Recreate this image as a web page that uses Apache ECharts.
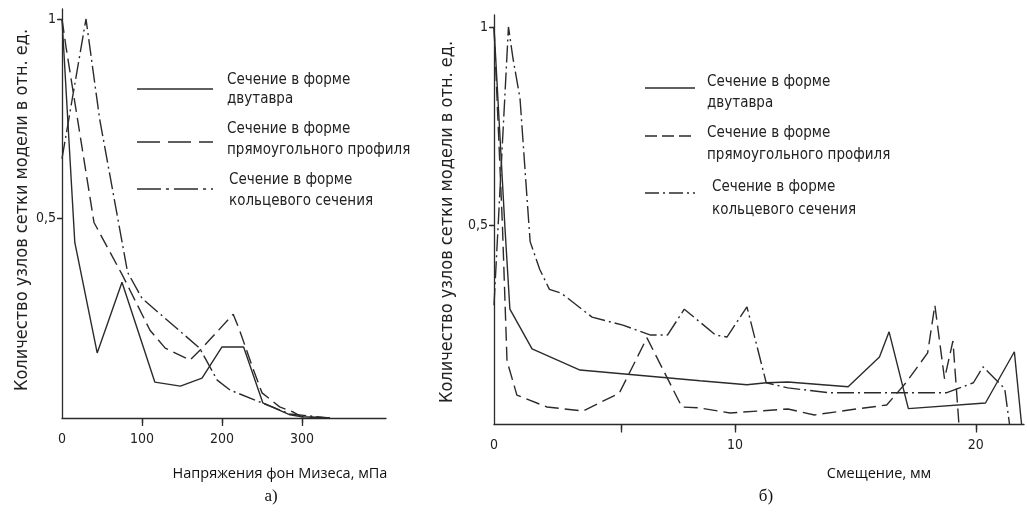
<!DOCTYPE html>
<html><head><meta charset="utf-8">
<script src="https://cdn.jsdelivr.net/npm/echarts@6/dist/echarts.min.js"></script>
<style>html,body{margin:0;padding:0;background:#fff}#c{width:1027px;height:514px}</style>
</head><body><div id="c"></div>
<script>
// ---- data ----
const seriesNames = ['Сечение в форме двутавра', 'Сечение в форме прямоугольного профиля', 'Сечение в форме кольцевого сечения'];
const legendLines = [['Сечение в форме', 'двутавра'], ['Сечение в форме', 'прямоугольного профиля'], ['Сечение в форме', 'кольцевого сечения']];
const yTitle = 'Количество узлов сетки модели в отн. ед.';
const leftXTitle = 'Напряжения фон Мизеса, мПа';
const rightXTitle = 'Смещение, мм';
const panelLabels = ['а)', 'б)'];

// (a) stress, MPa
const aSolidX = [0, 16, 44, 75, 116, 148, 175, 200, 227, 251, 285, 300, 335];
const aSolidY = [1.0, 0.44, 0.163, 0.34, 0.09, 0.08, 0.10, 0.178, 0.178, 0.038, 0.008, 0.003, 0];
const aDashX = [0, 5, 40, 75, 110, 129, 160, 175, 214, 222, 238, 250, 272, 289, 300, 335];
const aDashY = [1.0, 0.93, 0.49, 0.36, 0.22, 0.175, 0.145, 0.175, 0.26, 0.22, 0.128, 0.063, 0.028, 0.015, 0.003, 0];
const aDotX = [0, 30, 47, 82, 100, 172, 194, 210, 250, 285, 335];
const aDotY = [0.65, 1.0, 0.75, 0.365, 0.30, 0.175, 0.095, 0.07, 0.038, 0.01, 0];

// (б) displacement, mm
const bSolidX = [0, 0.45, 0.66, 1.58, 3.57, 8.55, 10.5, 11.3, 12.2, 14.7, 16.0, 16.4, 17.2, 20.4, 21.6, 21.9];
const bSolidY = [1.0, 0.5, 0.29, 0.19, 0.137, 0.11, 0.10, 0.105, 0.107, 0.095, 0.17, 0.233, 0.04, 0.054, 0.183, 0];
const bDashX = [0, 0.35, 0.54, 0.95, 2.2, 3.7, 5.2, 6.35, 7.8, 8.5, 9.8, 12.2, 13.3, 14.8, 16.3, 17.1, 18.0, 18.3, 18.7, 19.05, 19.3];
const bDashY = [1.0, 0.5, 0.16, 0.074, 0.044, 0.034, 0.079, 0.218, 0.044, 0.042, 0.029, 0.039, 0.024, 0.037, 0.049, 0.105, 0.18, 0.30, 0.115, 0.21, 0];
const bDotX = [0, 0.6, 0.79, 1.08, 1.37, 1.5, 1.9, 2.3, 2.8, 4.07, 5.35, 6.5, 7.2, 7.9, 9.2, 9.67, 10.5, 11.3, 12.2, 13.9, 18.8, 19.9, 20.3, 21.2, 21.4];
const bDotY = [0.3, 1.0, 0.92, 0.82, 0.57, 0.46, 0.39, 0.34, 0.33, 0.27, 0.25, 0.225, 0.225, 0.29, 0.225, 0.22, 0.296, 0.105, 0.092, 0.08, 0.08, 0.105, 0.145, 0.09, 0];

const aXTicks = [100, 200, 300];
const aXLabels = [0, 100, 200, 300];
const bXTicks = [5.3, 10, 20];
const bXLabels = [0, 10, 20];
const yTicks = [0.5, 1];

// ---- styling ----
const INK = '#2b2b2b';
const GOST = "'DejaVu Sans Condensed', 'Liberation Sans Narrow', 'DejaVu Sans', sans-serif";
const DASH = [14, 6];
const DASHDOT = [17, 4, 2, 4];
const zip = (xs, ys) => xs.map((x, i) => [x, ys[i]]);
const fmt = v => String(v).replace('.', ',');

function xAxes(gi, max, ticks, labels) {
  return [
    { type: 'value', gridIndex: gi, min: 0, max: max,
      axisLine: { lineStyle: { color: INK, width: 1.3 } },
      axisTick: { show: true, customValues: ticks, length: 8, lineStyle: { color: INK, width: 1.3 } },
      axisLabel: { customValues: labels, margin: 14, color: '#222', fontSize: 14, fontFamily: GOST, formatter: fmt },
      splitLine: { show: false } },
    { type: 'value', gridIndex: gi, min: 0, max: max,
      axisLine: { show: false },
      axisTick: { show: true, inside: true, customValues: ticks, length: 5, lineStyle: { color: INK, width: 1.3 } },
      axisLabel: { show: false }, splitLine: { show: false } }
  ];
}
function yAxes(gi, max) {
  return [
    { type: 'value', gridIndex: gi, min: 0, max: max,
      axisLine: { show: true, lineStyle: { color: INK, width: 1.3 } },
      axisTick: { show: true, customValues: yTicks, length: 4, lineStyle: { color: INK, width: 1.3 } },
      axisLabel: { customValues: yTicks, margin: 6, color: '#222', fontSize: 14, fontFamily: GOST, formatter: fmt },
      splitLine: { show: false } },
    { type: 'value', gridIndex: gi, min: 0, max: max,
      axisLine: { show: false },
      axisTick: { show: true, inside: true, customValues: yTicks, length: 5, lineStyle: { color: INK, width: 1.3 } },
      axisLabel: { show: false }, splitLine: { show: false } }
  ];
}
function line(name, data, type, xi, yi) {
  return { name: name, type: 'line', data: data, xAxisIndex: xi, yAxisIndex: yi,
    symbol: 'none', silent: true, animation: false,
    lineStyle: { color: INK, width: 1.4, type: type } };
}
function legendGraphic(x1, x2, ys, tx, tys, dashes) {
  const g = [];
  ys.forEach((y, i) => {
    g.push({ type: 'line', shape: { x1: x1, y1: y, x2: x2, y2: y },
      style: { stroke: INK, lineWidth: 1.4, lineDash: dashes[i] } });
    legendLines[i].forEach((t, k) => {
      g.push({ type: 'text', x: tx[i], y: tys[i][k],
        style: { text: t, fill: '#222', font: '15px ' + GOST, textVerticalAlign: 'middle' } });
    });
  });
  return g;
}

const chart = echarts.init(document.getElementById('c'), null, { renderer: 'canvas' });
const option = {
  backgroundColor: '#fff',
  animation: false,
  grid: [
    { left: 62, top: 9, width: 324, bottom: 96 },
    { left: 494, top: 15, width: 530, bottom: 89.5 }
  ],
  xAxis: [].concat(xAxes(0, 405, aXTicks, aXLabels), xAxes(1, 22.0, bXTicks, bXLabels)),
  yAxis: [].concat(yAxes(0, 1.025), yAxes(1, 1.03)),
  series: [
    line(seriesNames[0], zip(aSolidX, aSolidY), 'solid', 0, 0),
    line(seriesNames[1], zip(aDashX, aDashY), DASH, 0, 0),
    line(seriesNames[2], zip(aDotX, aDotY), DASHDOT, 0, 0),
    line(seriesNames[0], zip(bSolidX, bSolidY), 'solid', 2, 2),
    line(seriesNames[1], zip(bDashX, bDashY), DASH, 2, 2),
    line(seriesNames[2], zip(bDotX, bDotY), DASHDOT, 2, 2)
  ],
  graphic: [].concat(
    legendGraphic(137, 213, [89, 142, 189], [227, 227, 229], [[80, 99], [129, 150], [180, 201]], [null, [23, 8], [24, 5, 3, 5]]),
    legendGraphic(645, 695, [88, 136, 193], [707, 707, 712], [[82, 103], [133, 155], [187, 210]], [null, [12, 5], [14, 4, 2, 4]]),
    [
      { type: 'text', x: 22, y: 210, rotation: Math.PI / 2,
        style: { text: yTitle, fill: '#222', font: '18px ' + GOST, textAlign: 'center', textVerticalAlign: 'middle' } },
      { type: 'text', x: 447, y: 222, rotation: Math.PI / 2,
        style: { text: yTitle, fill: '#222', font: '18px ' + GOST, textAlign: 'center', textVerticalAlign: 'middle' } },
      { type: 'text', x: 280, y: 474,
        style: { text: leftXTitle, fill: '#111', font: '14.5px "Open Sans", sans-serif', textAlign: 'center', textVerticalAlign: 'middle' } },
      { type: 'text', x: 879, y: 474,
        style: { text: rightXTitle, fill: '#111', font: '14.5px "Open Sans", sans-serif', textAlign: 'center', textVerticalAlign: 'middle' } },
      { type: 'text', x: 271, y: 497,
        style: { text: panelLabels[0], fill: '#111', font: '17px "Liberation Serif", serif', textAlign: 'center', textVerticalAlign: 'middle' } },
      { type: 'text', x: 766, y: 497,
        style: { text: panelLabels[1], fill: '#111', font: '17px "Liberation Serif", serif', textAlign: 'center', textVerticalAlign: 'middle' } }
    ]
  )
};
chart.setOption(option);
</script></body></html>
